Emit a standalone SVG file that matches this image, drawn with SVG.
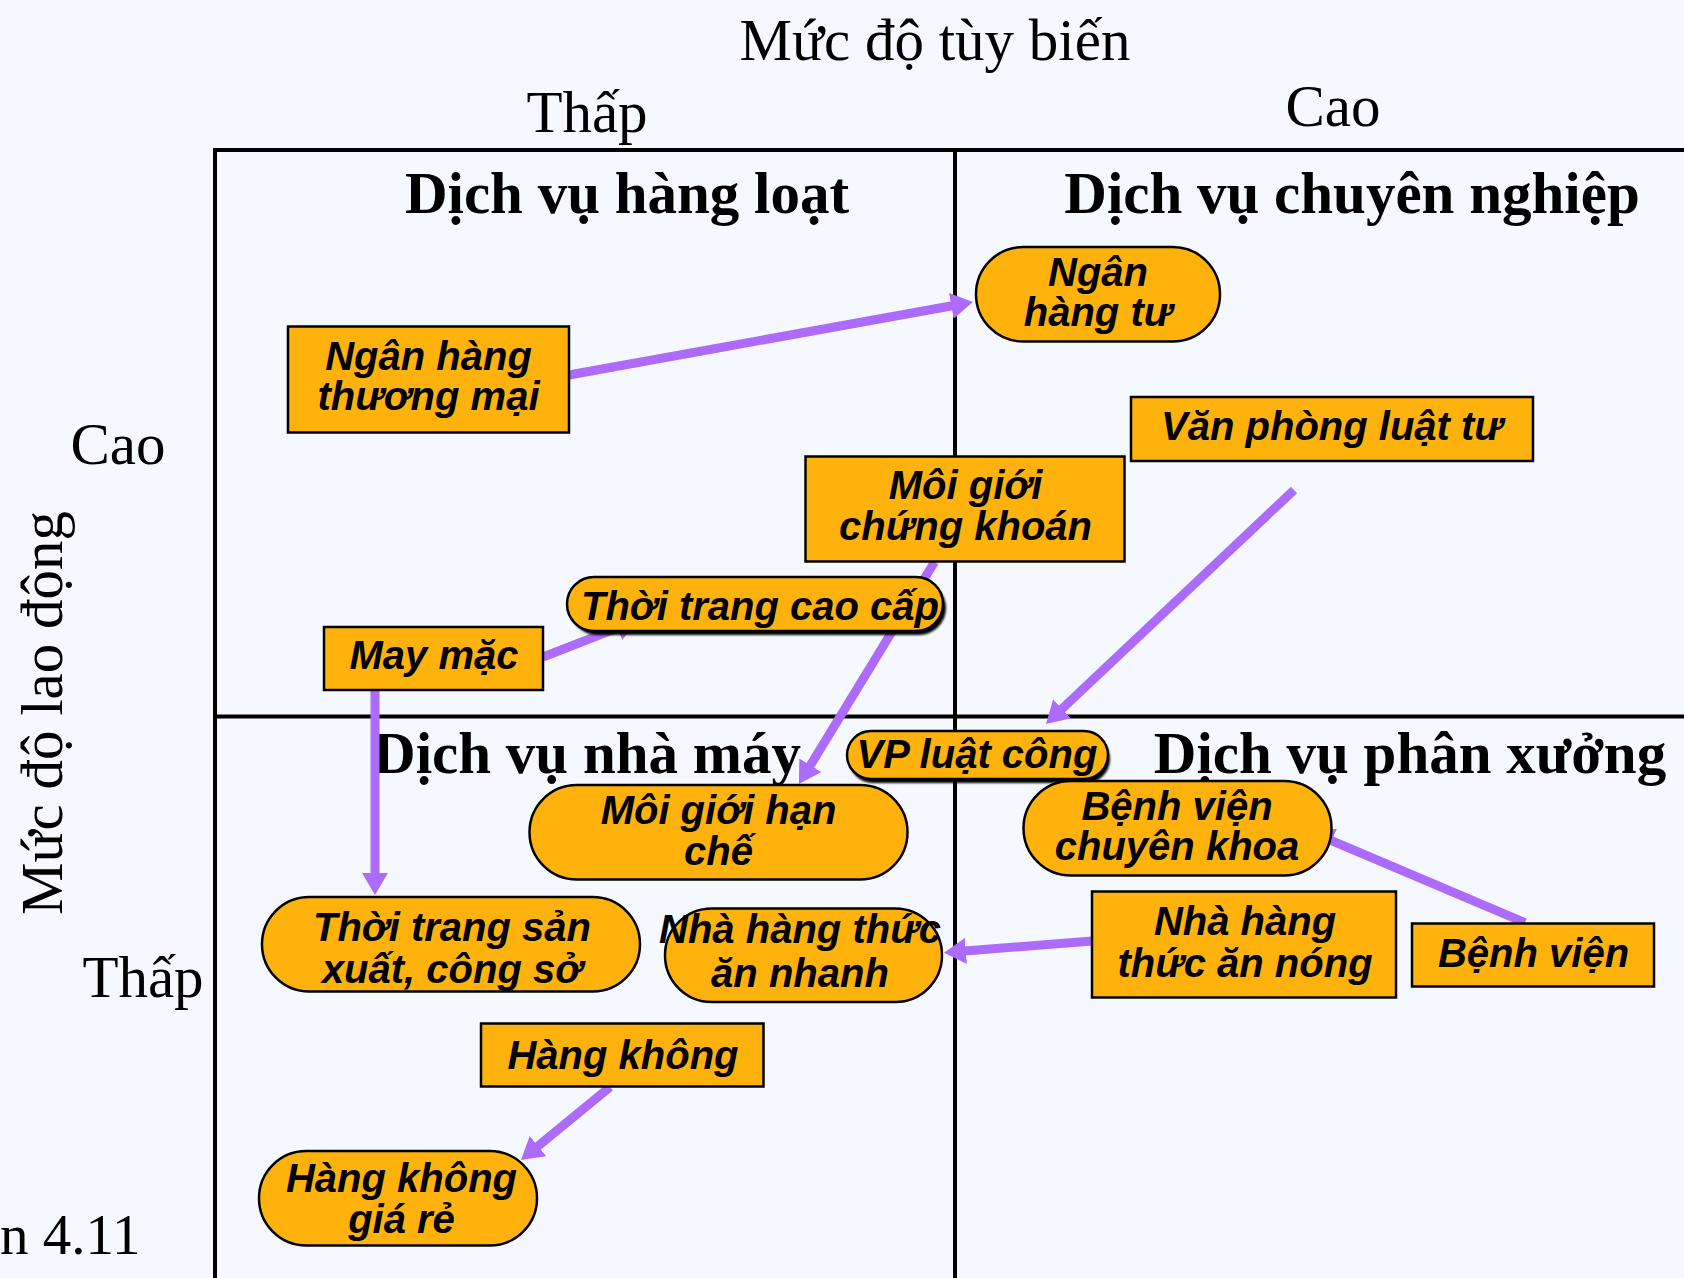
<svg xmlns="http://www.w3.org/2000/svg" width="1684" height="1278" viewBox="0 0 1684 1278">
  <defs>
    <style>
      .axis { font-family: "Liberation Serif", "Times New Roman", serif; font-size: 59px; fill: #000; text-anchor: middle; }
      .quad { font-family: "Liberation Serif", "Times New Roman", serif; font-size: 59px; font-weight: bold; fill: #000; text-anchor: middle; }
      .grid { stroke: #000; stroke-width: 4; fill: none; }
      .box { fill: #FFB20B; stroke: #000; stroke-width: 2.5; }
      .shadow { fill: #000; }
      .lbl { font-family: "Liberation Sans", Arial, sans-serif; font-size: 40px; font-weight: bold; font-style: italic; fill: #000; text-anchor: middle; }
      .conn { stroke: #AD6BFB; stroke-width: 9; fill: none; marker-end: url(#head); }
    </style>
    <marker id="head" markerUnits="userSpaceOnUse" markerWidth="22" markerHeight="26" viewBox="0 0 22 26" refX="1" refY="13" orient="auto">
      <path d="M0,0 L22,13 L0,26 z" fill="#AD6BFB"/>
    </marker>
    <filter id="soft" x="-5%" y="-20%" width="110%" height="140%">
      <feGaussianBlur stdDeviation="0.8"/>
    </filter>
  </defs>

  <rect width="1684" height="1278" fill="#F5F9FF"/>

  <!-- axis titles -->
  <text class="axis" x="935" y="60">Mức độ tùy biến</text>
  <text class="axis" x="587" y="132">Thấp</text>
  <text class="axis" x="1333" y="126">Cao</text>
  <text class="axis" x="118" y="464">Cao</text>
  <text class="axis" x="143" y="997">Thấp</text>
  <text class="axis" transform="translate(62,713) rotate(-90)" x="0" y="0">Mức độ lao động</text>
  <text class="axis" x="0" y="1254" style="text-anchor:start;font-size:57px">n 4.11</text>

  <!-- quadrant grid -->
  <g id="grid">
    <path class="grid" d="M215,1278 V150 H1684"/>
    <path class="grid" d="M955,150 V1278"/>
    <path class="grid" d="M215,716.5 H1684"/>
  </g>

  <!-- quadrant titles -->
  <text class="quad" x="627" y="213">Dịch vụ hàng loạt</text>
  <text class="quad" x="1352" y="213">Dịch vụ chuyên nghiệp</text>
  <text class="quad" x="587" y="773">Dịch vụ nhà máy</text>
  <text class="quad" x="1410" y="773">Dịch vụ phân xưởng</text>

  <!-- connectors -->
  <g id="connectors">
    <line class="conn" x1="569" y1="375" x2="952.3" y2="305.7"/>
    <line class="conn" x1="543" y1="657" x2="618.4" y2="627.6"/>
    <line class="conn" x1="375" y1="690" x2="375" y2="874"/>
    <line class="conn" x1="934.5" y1="562" x2="809.9" y2="766.1"/>
    <line class="conn" x1="1294" y1="490" x2="1061.3" y2="709.6"/>
    <line class="conn" x1="1525" y1="922.6" x2="1330.9" y2="840.3"/>
    <line class="conn" x1="1092" y1="941" x2="964.9" y2="951"/>
    <line class="conn" x1="610" y1="1087" x2="537.2" y2="1146.7"/>
  </g>

  <!-- nodes -->
  <g id="ngan-hang-thuong-mai">
    <rect class="box" x="288" y="326.5" width="281" height="106"/>
    <text class="lbl" x="428.5" y="370">Ngân hàng</text>
    <text class="lbl" x="428.5" y="410">thương mại</text>
  </g>
  <g id="ngan-hang-tu">
    <rect class="box" x="976" y="247" width="244" height="94.5" rx="47.25"/>
    <text class="lbl" x="1098" y="286">Ngân</text>
    <text class="lbl" x="1098" y="326">hàng tư</text>
  </g>
  <g id="van-phong-luat-tu">
    <rect class="box" x="1131" y="397" width="402" height="64"/>
    <text class="lbl" x="1332" y="440">Văn phòng luật tư</text>
  </g>
  <g id="moi-gioi-chung-khoan">
    <rect class="box" x="805.5" y="456.5" width="319" height="105"/>
    <text class="lbl" x="965.5" y="499">Môi giới</text>
    <text class="lbl" x="965.5" y="540">chứng khoán</text>
  </g>
  <g id="thoi-trang-cao-cap">
    <rect class="shadow" x="570" y="581" width="376" height="54" rx="27" filter="url(#soft)"/>
    <rect class="box" x="567" y="577" width="376" height="54" rx="27"/>
    <text class="lbl" x="760" y="620">Thời trang cao cấp</text>
  </g>
  <g id="may-mac">
    <rect class="box" x="324" y="627" width="219" height="63"/>
    <text class="lbl" x="434" y="669">May mặc</text>
  </g>
  <g id="vp-luat-cong">
    <rect class="shadow" x="849" y="735" width="261" height="48" rx="24" filter="url(#soft)"/>
    <rect class="box" x="847" y="731" width="261" height="48" rx="24"/>
    <text class="lbl" x="977" y="768">VP luật công</text>
  </g>
  <g id="moi-gioi-han-che">
    <rect class="box" x="529.5" y="785" width="378" height="94.5" rx="47.25"/>
    <text class="lbl" x="718.5" y="824">Môi giới hạn</text>
    <text class="lbl" x="718.5" y="864.5">chế</text>
  </g>
  <g id="benh-vien-chuyen-khoa">
    <rect class="box" x="1023.5" y="781" width="308" height="94.5" rx="47.25"/>
    <text class="lbl" x="1177" y="819.5">Bệnh viện</text>
    <text class="lbl" x="1177" y="860">chuyên khoa</text>
  </g>
  <g id="thoi-trang-san-xuat">
    <rect class="box" x="262" y="897" width="378" height="94.5" rx="47.25"/>
    <text class="lbl" x="452" y="941">Thời trang sản</text>
    <text class="lbl" x="452" y="983">xuất, công sở</text>
  </g>
  <g id="nha-hang-an-nhanh">
    <rect class="box" x="665" y="908.5" width="277" height="93.5" rx="46.75"/>
    <text class="lbl" x="800" y="943">Nhà hàng thức</text>
    <text class="lbl" x="800" y="987">ăn nhanh</text>
  </g>
  <g id="nha-hang-an-nong">
    <rect class="box" x="1092" y="891.5" width="304" height="106"/>
    <text class="lbl" x="1245" y="934.5">Nhà hàng</text>
    <text class="lbl" x="1245" y="977">thức ăn nóng</text>
  </g>
  <g id="benh-vien">
    <rect class="box" x="1412" y="923.5" width="242" height="63"/>
    <text class="lbl" x="1533.5" y="966.5">Bệnh viện</text>
  </g>
  <g id="hang-khong">
    <rect class="box" x="481" y="1023.5" width="282.5" height="63"/>
    <text class="lbl" x="623" y="1068.5">Hàng không</text>
  </g>
  <g id="hang-khong-gia-re">
    <rect class="box" x="259" y="1151" width="278" height="94.5" rx="47.25"/>
    <text class="lbl" x="401.5" y="1192">Hàng không</text>
    <text class="lbl" x="401.5" y="1233">giá rẻ</text>
  </g>
</svg>
